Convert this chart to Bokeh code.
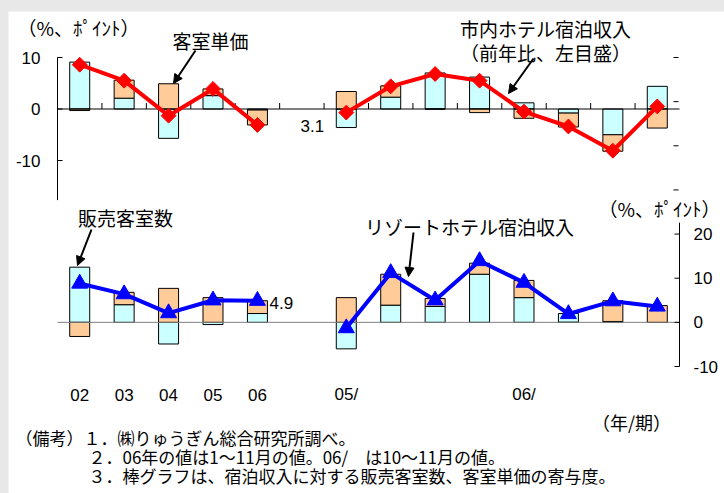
import numpy as np
from bokeh.plotting import figure
from bokeh.models import Range1d, Label, Arrow, NormalHead
from bokeh.core.properties import value
from bokeh.embed import file_html
from bokeh.resources import INLINE

# ---------------- data ----------------
categories = ["02", "03", "04", "05", "06", "",
              "05/Ⅰ", "05/Ⅱ", "05/Ⅲ", "05/Ⅳ", "06/Ⅰ", "06/Ⅱ", "06/Ⅲ", "06/Ⅳ"]
tick_labels = ["02", "03", "04", "05", "06", "", "05/", "", "", "", "06/", "", "", ""]

nan = float("nan")
# 市内ホテル (left axis)
city_total = [8.6, 5.5, -1.3, 3.9, -3.1, nan, -0.7, 4.4, 6.8, 5.5, -0.5, -3.4, -8.1, 0.5]
city_rooms = [9.1, 2.1, -5.7, 2.6, -0.2, nan, -3.6, 2.3, 7.0, 6.2, 1.2, -0.8, -5.0, 4.4]
city_price = [-0.3, 3.5, 4.9, 1.3, -2.9, nan, 3.4, 2.2, 0.0, -0.7, -1.8, -2.7, -3.2, -3.7]
# リゾートホテル (right axis)
resort_total = [8.8, 6.4, 2.1, 5.0, 4.9, nan, -1.3, 11.2, 5.0, 13.9, 9.0, 1.9, 4.8, 3.6]
resort_rooms = [12.5, 4.0, -4.9, -0.5, 2.0, nan, -6.0, 3.9, 3.6, 10.9, 5.6, 2.0, 0.2, 0.0]
resort_price = [-3.2, 2.8, 7.7, 5.6, 2.9, nan, 5.6, 7.0, 1.8, 2.5, 3.9, 0.0, 4.7, 3.8]

left_ticks = [-10, 0, 10]
left_tick_labels = ["-10", "0", "10"]
right_ticks = [-10, 0, 10, 20]
right_tick_labels = ["-10", "0", "10", "20"]
right_hidden_ticks = [30, 40, 50, 60]

# ---------------- styles / geometry ----------------
CYAN = "#CCFFFF"
ORANGE = "#FFCC99"
JP = "Noto Sans CJK JP"
NUM = "Liberation Sans"

PAGE_X0, PAGE_Y0, PAGE_X1, PAGE_Y1 = 8, 11, 724, 493     # white chart area on the page
FRAME_L, FRAME_R, FRAME_T, FRAME_B = 57, 679, 57, 366     # plot area of both scales
LEFT_LO, LEFT_HI = -50, 10
RIGHT_LO, RIGHT_HI = -10, 60
n = len(categories)
SLOT = (FRAME_R - FRAME_L) / n
PXU = (FRAME_B - FRAME_T) / (LEFT_HI - LEFT_LO)
RPXU = (FRAME_B - FRAME_T) / (RIGHT_HI - RIGHT_LO)


def sx(px):
    return (px - FRAME_L) / SLOT - 0.5


def sy(py):
    return LEFT_HI - (py - FRAME_T) / PXU


def sry(py):
    return RIGHT_HI - (py - FRAME_T) / RPXU


X_LO, X_HI = -0.5, n - 0.5

p = figure(width=PAGE_X1 - PAGE_X0, height=PAGE_Y1 - PAGE_Y0,
           x_range=Range1d(sx(PAGE_X0), sx(PAGE_X1)),
           y_range=Range1d(sy(PAGE_Y1), sy(PAGE_Y0)),
           x_axis_type=None, y_axis_type=None,
           output_backend="svg", toolbar_location=None,
           min_border=0, min_border_left=0, min_border_right=0,
           min_border_top=0, min_border_bottom=0)
p.margin = (PAGE_Y0, 0, 0, PAGE_X0)
p.extra_y_ranges = {"right": Range1d(sry(PAGE_Y1), sry(PAGE_Y0))}
p.xgrid.visible = False
p.ygrid.visible = False
p.outline_line_color = None
p.background_fill_color = "white"
p.border_fill_color = "white"


def stacked(first, second):
    a = np.asarray(first, float)
    b = np.asarray(second, float)
    b0 = np.where(np.sign(a) == np.sign(b), a, 0.0)
    m = ~np.isnan(a)
    x = np.arange(len(a))[m]
    return x, np.zeros(m.sum()), a[m], b0[m], (b0 + b)[m]


BW = 0.45
for rooms, price, rng in [(city_rooms, city_price, "default"),
                          (resort_rooms, resort_price, "right")]:
    x, a0, a1, b0, b1 = stacked(rooms, price)
    p.vbar(x=x, bottom=a0, top=a1, width=BW, fill_color=CYAN,
           line_color="black", line_width=1, y_range_name=rng)
    p.vbar(x=x, bottom=b0, top=b1, width=BW, fill_color=ORANGE,
           line_color="black", line_width=1, y_range_name=rng)

# zero lines (category axes)
p.segment(x0=[X_LO], y0=[0], x1=[X_HI], y1=[0], line_color="black", line_width=1)
p.segment(x0=[X_LO], y0=[0], x1=[X_HI], y1=[0], line_color="#808080",
          line_width=1, y_range_name="right")
bounds_x = np.arange(n - 1) + 0.5
p.segment(x0=bounds_x, y0=np.zeros(n - 1), x1=bounds_x,
          y1=np.full(n - 1, 6 / PXU), line_color="black", line_width=1)

# left value axis (市内ホテル)
TICK = 5 / SLOT
p.segment(x0=[X_LO], y0=[-17.7], x1=[X_LO], y1=[LEFT_HI], line_color="black", line_width=1)
p.segment(x0=[X_LO] * len(left_ticks), y0=left_ticks,
          x1=[X_LO + TICK] * len(left_ticks), y1=left_ticks,
          line_color="black", line_width=1)
p.text(x=[X_LO - 17 / SLOT] * len(left_ticks), y=left_ticks, text=left_tick_labels,
       text_font=value(NUM), text_font_size=value("17px"), text_align="right",
       text_baseline="middle", text_color="black")

# right value axis (リゾートホテル)
p.segment(x0=[X_HI], y0=[RIGHT_LO], x1=[X_HI], y1=[22.6], line_color="black",
          line_width=1, y_range_name="right")
p.segment(x0=[X_HI - TICK] * len(right_ticks), y0=right_ticks,
          x1=[X_HI] * len(right_ticks), y1=right_ticks,
          line_color="black", line_width=1, y_range_name="right")
p.segment(x0=[X_HI - 6 / SLOT] * len(right_hidden_ticks), y0=right_hidden_ticks,
          x1=[X_HI - 1 / SLOT] * len(right_hidden_ticks), y1=right_hidden_ticks,
          line_color="black", line_width=1, y_range_name="right")
p.text(x=[X_HI + 14 / SLOT] * len(right_ticks), y=right_ticks, text=right_tick_labels,
       text_font=value(NUM), text_font_size=value("17px"), text_align="left",
       text_baseline="middle", text_color="black", y_range_name="right")

# category labels
xs = list(range(n))
p.text(x=xs, y=[sy(394)] * n, text=tick_labels,
       text_font=value(NUM), text_font_size=value("17px"), text_align="center",
       text_baseline="middle", text_color="black")

# lines
p.line(xs, city_total, line_color="#FF0000", line_width=4)
p.scatter(xs, city_total, marker="square", angle=np.pi / 4, size=10.5,
          fill_color="#FF0000", line_color="#FF0000")
p.line(xs, resort_total, line_color="#0000FF", line_width=4, y_range_name="right")
p.scatter(xs, resort_total, marker="triangle", size=16, fill_color="#0000FF",
          line_color="#0000FF", y_range_name="right")


def lab(text, px, py, size="19px", font=JP, align="center"):
    p.add_layout(Label(x=sx(px), y=sy(py), text=text, text_font=font,
                       text_font_size=size, text_align=align,
                       text_baseline="middle", text_color="black"))


def arr(x0, y0, x1, y1):
    p.add_layout(Arrow(x_start=sx(x0), y_start=sy(y0), x_end=sx(x1), y_end=sy(y1),
                       line_color="black", line_width=2,
                       end=NormalHead(size=9, fill_color="black", line_color="black")))


lab("（%、ﾎﾟｲﾝﾄ）", 17, 27, size="19px", align="left")
lab("客室単価", 210, 40)
arr(195, 50, 173, 83)
lab("市内ホテル宿泊収入", 545, 28)
lab("（前年比、左目盛）", 545, 52)
arr(533, 58, 508, 93)
lab("販売客室数", 125, 217)
arr(91, 229, 77, 265)
lab("リゾートホテル宿泊収入", 469, 226)
arr(413, 232, 408, 276)
lab(f"{abs(city_total[4]):.1f}", 300, 125, size="17px", font=NUM, align="left")
lab(f"{abs(resort_total[4]):.1f}", 269, 302, size="17px", font=NUM, align="left")
lab("（%、ﾎﾟｲﾝﾄ）", 598, 208, size="19px", align="left")
lab("（年/期）", 631, 421, size="18px")
lab("（備考）１．㈱りゅうぎん総合研究所調べ。", 15, 437, size="17px", align="left")
lab("２．06年の値は1～11月の値。06/　は10～11月の値。", 88, 456, size="17px", align="left")
lab("３．棒グラフは、宿泊収入に対する販売客室数、客室単価の寄与度。", 88, 475, size="17px", align="left")

html = file_html(p, INLINE)
html = html.replace("</head>",
                    "<style>html, body { background-color: #e8e8e8 !important; }</style></head>", 1)
open("out.html", "w").write(html)
